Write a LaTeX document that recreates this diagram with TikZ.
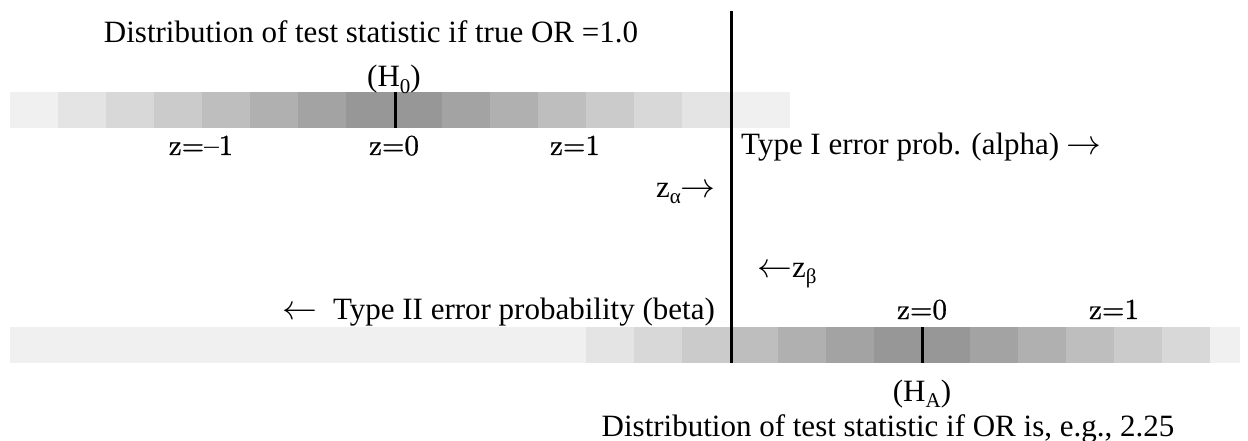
\documentclass[tikz,border=0pt]{standalone}
\usepackage{fontspec}
\usepackage{graphicx}
\newfontfamily\gar{Liberation Serif}
\newfontfamily\lmz{lmroman10-regular.otf}[FakeBold=0.8]
\definecolor{c1}{HTML}{F0F0F0}
\definecolor{c2}{HTML}{E4E4E4}
\definecolor{c3}{HTML}{D8D8D8}
\definecolor{c4}{HTML}{CBCBCB}
\definecolor{c5}{HTML}{BEBEBE}
\definecolor{c6}{HTML}{B0B0B0}
\definecolor{c7}{HTML}{A3A3A3}
\definecolor{c8}{HTML}{979797}
\newcommand\lowsub[1]{\raisebox{-0.22em}{\fontsize{21}{24}\selectfont #1}}
\newcommand\rarr{\scalebox{1.4}{$\rightarrow$}}
\newcommand\larr{\scalebox{1.4}{$\leftarrow$}}
\begin{document}
\begin{tikzpicture}[x=1pt,y=-1pt,
  lbl/.style={font=\gar\fontsize{31}{37}\selectfont, inner sep=0pt},
  zl/.style={font=\lmz\fontsize{29}{34}\selectfont, inner sep=0pt},
  mark line/.style={line width=3pt, black}]
\useasboundingbox (0,0) rectangle (1248,441);
% top bar (H0)
\foreach \xa/\c in {10/c1,58/c2,106/c3,154/c4,202/c5,250/c6,298/c7,346/c8,394/c8,442/c7,490/c6,538/c5,586/c4,634/c3,682/c2}
  \fill[\c] (\xa,92) rectangle ++(48,36);
\fill[c1] (730,92) rectangle (790,128);
% bottom bar (HA)
\fill[c1] (10,327) rectangle (586,363);
\foreach \xa/\c in {586/c2,634/c3,682/c4,730/c5,778/c6,826/c7,874/c8,922/c8,970/c7,1018/c6,1066/c5,1114/c4,1162/c3}
  \fill[\c] (\xa,327) rectangle ++(48,36);
\fill[c1] (1210,327) rectangle (1240,363);
% marker lines
\coordinate (h0t) at (395,92);
\coordinate (h0b) at (395,128);
\coordinate (hat) at (922,327);
\coordinate (hab) at (922,363);
\coordinate (vt) at (731.5,11);
\coordinate (vb) at (731.5,363);
\draw[mark line] (h0t) -- (h0b);
\draw[mark line] (hat) -- (hab);
\draw[mark line] (vt) -- (vb);
% texts
\node[lbl, anchor=base] (t0) at (371,43) {Distribution of test statistic if true OR =1.0};
\node[lbl, anchor=base] (h0) at (394,87) {(H\lowsub{0})};
\node[zl, anchor=base] (zm1) at (201,155) {z=–1};
\node[zl, anchor=base] (z0) at (394,155) {z=0};
\node[zl, anchor=base] (z1) at (575,155) {z=1};
\node[lbl, anchor=base west] (t1) at (741,155) {Type I error prob. (alpha) \rarr};
\node[lbl, anchor=base east] (za) at (716,197) {z\lowsub{α}\rarr};
\node[lbl, anchor=base west] (zb) at (757,277) {\larr z\lowsub{β}};
\node[lbl, anchor=base east] (t2) at (715,319) {\larr~ Type II error probability (beta)};
\node[zl, anchor=base] (z0b) at (922,319) {z=0};
\node[zl, anchor=base] (z1b) at (1114,319) {z=1};
\node[lbl, anchor=base] (ha) at (922,401) {(H\lowsub{A})};
\node[lbl, anchor=base] (t3) at (888,436) {Distribution of test statistic if OR is, e.g., 2.25};
\end{tikzpicture}
\end{document}
